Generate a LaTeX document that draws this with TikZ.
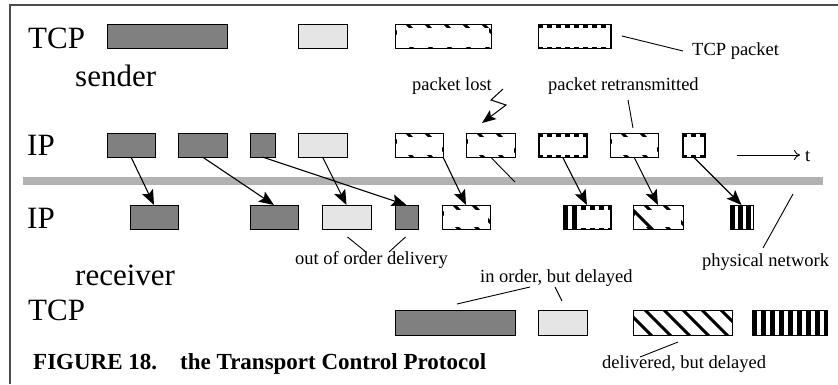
\documentclass[tikz,border=0pt]{standalone}
\usepackage{fontspec}
\setmainfont{Liberation Serif}
\usetikzlibrary{arrows.meta}

\definecolor{pktdark}{gray}{0.5}
\definecolor{pktlight}{gray}{0.9}
\definecolor{netgray}{gray}{0.7}
\definecolor{framegray}{gray}{0.3}

% diagonal stripes (falling to the right), clipped to the packet box
\newcommand\diaghatch{%
  \foreach \k in {-2,...,6}{%
    \draw[black,line width=3pt]
      ([xshift={(7+19*\k)*1pt},yshift=5pt]path picture bounding box.north west)
      -- ++(40pt,-40pt);}}
% vertical stripes with the given period
\newcommand\verthatch[1]{%
  \foreach \k in {0,...,10}{%
    \fill[black]
      ([xshift={#1*\k*1pt},yshift=2pt]path picture bounding box.north west)
      rectangle ++(4.5pt,-40pt);}}
% white inner area leaving only the stripe ends near the border (left, top, right, bottom)
\newcommand\blankout[4]{%
  \fill[white]
    ([xshift=#1pt,yshift=-#2pt]path picture bounding box.north west)
    rectangle ([xshift=-#3pt,yshift=#4pt]path picture bounding box.south east);}
% one full stripe across the lower left corner
\newcommand\cornerstripe{%
  \draw[black,line width=3pt]
    ([xshift=-3pt,yshift=-2pt]path picture bounding box.north west) -- ++(30pt,-30pt);}

% packet box: style, name, x1, y1, x2, y2 (y grows downwards)
\newcommand\pkt[6]{%
  \node[#1, minimum width={(#5-#3)*1pt}, minimum height={(#6-#4)*1pt}]
    (#2) at ({(#3+#5)/2},{(#4+#6)/2}) {};}

\begin{document}
\begin{tikzpicture}[x=1pt,y=-1pt,
  pkt/.style={draw=black, line width=1pt, inner sep=0pt, outer sep=0pt},
  dark/.style={pkt, fill=pktdark},
  light/.style={pkt, fill=pktlight},
  diagfull/.style={pkt, fill=white, path picture={\diaghatch}},
  vertfull/.style={pkt, fill=white, path picture={\verthatch{#1}}},
  diagticks/.style n args={4}{pkt, fill=white,
    path picture={\diaghatch\blankout{#1}{#2}{#3}{#4}}},
  diagcorner/.style n args={4}{pkt, fill=white,
    path picture={\diaghatch\blankout{#1}{#2}{#3}{#4}\cornerstripe}},
  vertticks/.style n args={5}{pkt, fill=white,
    path picture={\verthatch{#1}\blankout{#2}{#3}{#4}{#5}}},
  big/.style={anchor=base west, inner sep=0pt, font=\fontsize{31}{36}\selectfont},
  small/.style={anchor=base west, inner sep=0pt, font=\fontsize{18.5}{22}\selectfont},
  captionfont/.style={anchor=base west, inner sep=0pt, font=\fontsize{23}{27}\selectfont\bfseries},
  flow/.style={line width=1.1pt, -{Stealth[length=15pt,width=12pt,inset=3pt]}},
  pointer/.style={line width=0.9pt},
]
\useasboundingbox (0,0) rectangle (838,384);

% frame
\draw[framegray, line width=1.3pt] (10,384) -- (10,5) -- (838,5);

% physical network
\node[fill=netgray, inner sep=0pt, minimum width=800pt, minimum height=8pt] (net) at (423,181) {};

% layer labels
\node[big] (tcpS) at (28,48) {TCP};
\node[big] (sender) at (75,86) {sender};
\node[big] (ipS) at (27,155) {IP};
\node[big] (ipR) at (27,228) {IP};
\node[big] (receiver) at (75,285) {receiver};
\node[big] (tcpR) at (28,320) {TCP};

% sender TCP stream
\pkt{dark}{T1}{107}{24}{227}{48}
\pkt{light}{T2}{298}{24}{347}{48}
\pkt{diagticks={2}{4}{2}{1.5}}{T3}{395}{24}{491}{48}
\pkt{vertticks={9}{1}{4}{1}{1.5}}{T4}{538}{24}{611}{48}

% sender IP packets
\pkt{dark}{A}{107}{133}{155}{157}
\pkt{dark}{B}{178}{133}{227}{157}
\pkt{dark}{C}{250}{133}{275}{157}
\pkt{light}{D}{298}{133}{347}{157}
\pkt{diagticks={1.5}{4}{1.5}{2}}{E}{395}{133}{443}{157}
\pkt{diagticks={1.5}{4}{1.5}{2}}{F}{466}{133}{515}{157}
\pkt{vertticks={9}{1.5}{4}{1.5}{2}}{G}{538}{133}{587}{157}
\pkt{diagticks={1.5}{4}{1.5}{2}}{H}{610}{133}{658}{157}
\pkt{vertticks={9}{1.5}{4}{1.5}{2}}{I}{682}{133}{705}{157}

% receiver IP packets
\pkt{dark}{a}{130}{205}{178}{229}
\pkt{dark}{b}{250}{205}{298}{229}
\pkt{light}{c}{322}{205}{371}{229}
\pkt{dark}{d}{395}{205}{418}{229}
\pkt{diagticks={2}{5}{2}{2}}{e}{442}{205}{490}{229}
\pkt{vertticks={9}{15}{5}{1.5}{1.5}}{f}{563}{205}{611}{229}
\pkt{diagcorner={2}{5}{2}{2}}{g}{633}{205}{683}{229}
\pkt{vertfull=8}{h}{730}{205}{753}{229}

% receiver TCP stream
\pkt{dark}{R1}{395}{310}{515}{335}
\pkt{light}{R2}{538}{310}{587}{335}
\pkt{diagfull}{R3}{633}{310}{732}{335}
\pkt{vertfull=9}{R4}{752}{310}{827}{335}

% transfer through the network
\draw[flow] (A.south) -- (a.north);
\draw[flow] (B.south) -- (b.north);
\draw[flow] (C.south) -- (d.north);
\draw[flow] (D.south) -- (c.north);
\draw[flow] (E.south east) -- (e.north);
\draw[flow] (G.south) -- (f.north);
\draw[flow] (H.south) -- (g.north);
\draw[flow] (I.south) -- (h.north);
\coordinate (lostend) at (515,182);
\draw[pointer] (F.south) -- (lostend);

% time axis
\coordinate (tstart) at (737,155);
\coordinate (tend) at (800,155);
\node[small] (t) at (805,161) {t};
\draw[line width=0.9pt, -{To[length=6pt,width=10pt]}] (tstart) -- (tend);

% annotations
\node[small] (lblTCPpkt) at (692,55) {TCP packet};
\coordinate (tcpptr) at (622,36);
\draw[pointer] (tcpptr) -- (683,51);

\node[small] (lblLost) at (412,90) {packet lost};
\coordinate (bolt) at (503,89);
\draw[line width=1pt, -{Stealth[length=14pt,width=11pt,inset=3pt]}]
  (bolt) -- (491,100) -- (506,105) -- (482,123);

\node[small] (lblRetx) at (548,90) {packet retransmitted};
\coordinate (retxptr) at (628,100);
\draw[pointer] (retxptr) -- (633,128);

\node[small] (lblOoo) at (295,264) {out of order delivery};
\coordinate (ooo1) at (366,252);
\coordinate (ooo2) at (389,252);
\draw[pointer] (c.south) ++(1,8) -- (ooo1);
\draw[pointer] (d.south) ++(-1,8) -- (ooo2);

\node[small] (lblPhys) at (702,266) {physical network};
\coordinate (physptr) at (793,194);
\draw[pointer] (physptr) -- (763,248);

\node[small] (lblInOrder) at (480,282) {in order, but delayed};
\coordinate (io1) at (530,287);
\coordinate (io2) at (555,287);
\draw[pointer] (io1) -- (457,304);
\draw[pointer] (io2) -- (562,301);

\node[small] (lblDelayed) at (602,368) {delivered, but delayed};
\coordinate (dd) at (678,342);
\draw[pointer] (dd) -- (640,357);

% caption
\node[captionfont] (capnum) at (33,369) {FIGURE 18.};
\node[captionfont] (captext) at (180,369) {the Transport Control Protocol};
\end{tikzpicture}
\end{document}
